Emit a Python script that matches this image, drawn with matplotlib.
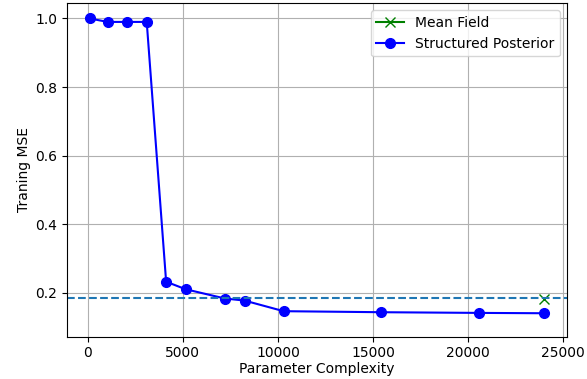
import matplotlib
matplotlib.use('Agg')
import matplotlib.pyplot as plt

# данные
complexity = [100, 1050, 2080, 3100, 4120, 5150, 7210, 8240, 10300, 15440, 20590, 23990]
mse_structured = [1.0, 0.990, 0.990, 0.990, 0.232, 0.210, 0.183, 0.177, 0.146, 0.143, 0.141, 0.140]
mf_complexity = [24000]
mse_mean_field = [0.183]
baseline = 0.185

fig, ax = plt.subplots(figsize=(5.87, 3.79), dpi=100)
fig.subplots_adjust(left=0.114, right=0.966, top=0.991, bottom=0.112)

ax.plot(mf_complexity, mse_mean_field, 'gx-', markersize=7, label='Mean Field')
ax.plot(complexity, mse_structured, 'bo-', markersize=7, label='Structured Posterior')
ax.axhline(baseline, color='tab:blue', linestyle='--')

ax.set_ylim(0.072, 1.044)
ax.set_xlabel('Parameter Complexity', labelpad=1)
ax.set_ylabel('Traning MSE', labelpad=3)
ax.grid(True)
ax.legend(loc='upper right')

plt.savefig('out.png')
